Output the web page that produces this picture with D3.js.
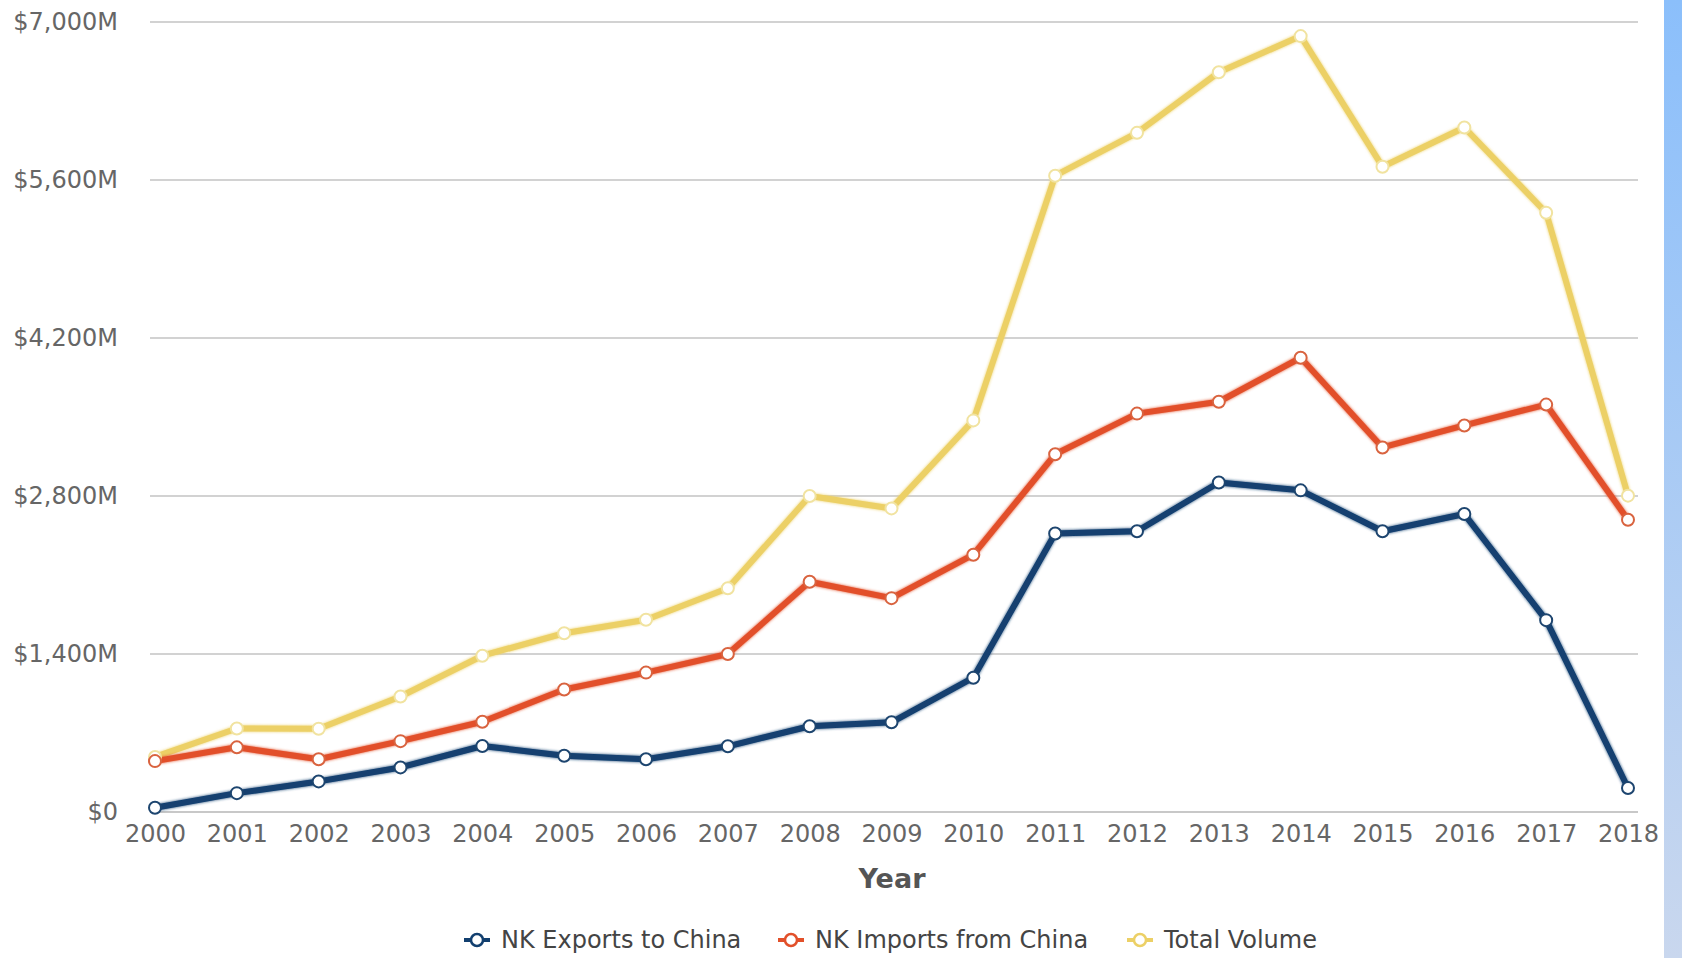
<!DOCTYPE html>
<html>
<head>
<meta charset="utf-8">
<script src="https://cdn.jsdelivr.net/npm/d3@7"></script>
<style>
  body { margin: 0; background: #fff; overflow: hidden; }
  svg { display: block; font-family: "DejaVu Sans", Verdana, sans-serif; }
</style>
</head>
<body>
<svg id="chart" width="1682" height="958"></svg>
<script>
// Chart data (millions of USD)
const years = [2000, 2001, 2002, 2003, 2004, 2005, 2006, 2007, 2008, 2009,
               2010, 2011, 2012, 2013, 2014, 2015, 2016, 2017, 2018];
const exportsToChina = [37, 167, 271, 395, 585, 499, 468, 582, 760, 795,
                        1190, 2468, 2488, 2920, 2850, 2488, 2640, 1700, 213];
const importsFromChina = [451, 573, 467, 628, 800, 1085, 1235, 1400, 2040, 1895,
                          2280, 3170, 3530, 3635, 4025, 3230, 3425, 3610, 2590];
const totalVolume = [488, 740, 738, 1023, 1385, 1584, 1703, 1982, 2800, 2690,
                     3470, 5638, 6018, 6555, 6875, 5718, 6065, 5310, 2803];
const yTicks = [0, 1400, 2800, 4200, 5600, 7000];

const series = [
  { name: "NK Exports to China", values: exportsToChina, color: "#123f6f", marker: "#1d456f" },
  { name: "NK Imports from China", values: importsFromChina, color: "#e2502a", marker: "#d9633f" },
  { name: "Total Volume", values: totalVolume, color: "#ecd066", marker: "#f1e3a0" }
];

const svg = d3.select("#chart");
const width = +svg.attr("width");
const height = +svg.attr("height");

// Plot area
const x = d3.scaleLinear().domain([2000, 2018]).range([155, 1628]);
const y = d3.scaleLinear().domain([0, 7000]).range([812, 22]);

// Blue strip at the right edge
const defs = svg.append("defs");
const grad = defs.append("linearGradient")
    .attr("id", "edge").attr("x1", 0).attr("y1", 0).attr("x2", 0).attr("y2", 1);
grad.append("stop").attr("offset", "0%").attr("stop-color", "#8bbffb");
grad.append("stop").attr("offset", "100%").attr("stop-color", "#c9d7ee");
svg.append("rect")
    .attr("x", 1664).attr("y", 0)
    .attr("width", width - 1664).attr("height", height)
    .attr("fill", "url(#edge)");

// Soft glow behind the lines
const glow = defs.append("filter").attr("id", "glow")
    .attr("x", "-5%").attr("y", "-5%").attr("width", "110%").attr("height", "110%");
glow.append("feGaussianBlur").attr("in", "SourceGraphic").attr("stdDeviation", 1.6).attr("result", "b");
const merge = glow.append("feMerge");
merge.append("feMergeNode").attr("in", "b");
merge.append("feMergeNode").attr("in", "SourceGraphic");

// Gridlines
svg.append("g")
    .selectAll("line")
    .data(yTicks)
    .join("line")
    .attr("x1", 150).attr("x2", 1638)
    .attr("y1", d => y(d)).attr("y2", d => y(d))
    .attr("stroke", d => d === 0 ? "#c8c8c8" : "#d2d2d2")
    .attr("stroke-width", 2);

// Y axis labels
const yAxis = d3.axisLeft(y)
    .tickValues(yTicks)
    .tickSize(0)
    .tickPadding(0)
    .tickFormat(d => d === 0 ? "$0" : "$" + d3.format(",")(d) + "M");
svg.append("g")
    .attr("transform", "translate(118,0)")
    .call(yAxis)
    .call(g => g.select(".domain").remove())
    .selectAll("text")
    .attr("font-size", 24)
    .attr("font-family", "DejaVu Sans, Verdana, sans-serif")
    .attr("fill", "#666");

// X axis labels
const xAxis = d3.axisBottom(x)
    .tickValues(years)
    .tickSize(0)
    .tickPadding(0)
    .tickFormat(d3.format("d"));
svg.append("g")
    .attr("transform", "translate(0,825)")
    .call(xAxis)
    .call(g => g.select(".domain").remove())
    .selectAll("text")
    .attr("font-size", 24)
    .attr("font-family", "DejaVu Sans, Verdana, sans-serif")
    .attr("fill", "#666");

// Axis title
svg.append("text")
    .attr("x", 892).attr("y", 888)
    .attr("text-anchor", "middle")
    .attr("font-size", 27)
    .attr("font-weight", "bold")
    .attr("fill", "#555")
    .text("Year");

// Lines, total drawn first so the others sit on top
const line = d3.line()
    .x((d, i) => x(years[i]))
    .y(d => y(d));

const drawOrder = [series[2], series[1], series[0]];
const lineLayer = svg.append("g");
const pointLayer = svg.append("g");

drawOrder.forEach(s => {
    lineLayer.append("path")
        .datum(s.values)
        .attr("d", line)
        .attr("fill", "none")
        .attr("stroke", s.color)
        .attr("stroke-width", 6)
        .attr("stroke-linejoin", "round")
        .attr("filter", "url(#glow)");
});

drawOrder.forEach(s => {
    pointLayer.append("g")
        .selectAll("circle")
        .data(s.values)
        .join("circle")
        .attr("cx", (d, i) => x(years[i]))
        .attr("cy", d => y(d))
        .attr("r", 6)
        .attr("fill", "#fff")
        .attr("stroke", s.marker)
        .attr("stroke-width", 2);
});

// Legend
const legendX = [464, 778, 1127];
const legend = svg.append("g");
series.forEach((s, i) => {
    const g = legend.append("g").attr("transform", `translate(${legendX[i]},940)`);
    g.append("line")
        .attr("x1", 0).attr("x2", 26)
        .attr("stroke", s.color).attr("stroke-width", 4);
    g.append("circle")
        .attr("cx", 13).attr("r", 6)
        .attr("fill", "#fff")
        .attr("stroke", s.color).attr("stroke-width", 2.5);
    g.append("text")
        .attr("x", 37).attr("y", 8)
        .attr("font-size", 24)
        .attr("fill", "#444")
        .text(s.name);
});
</script>
</body>
</html>
